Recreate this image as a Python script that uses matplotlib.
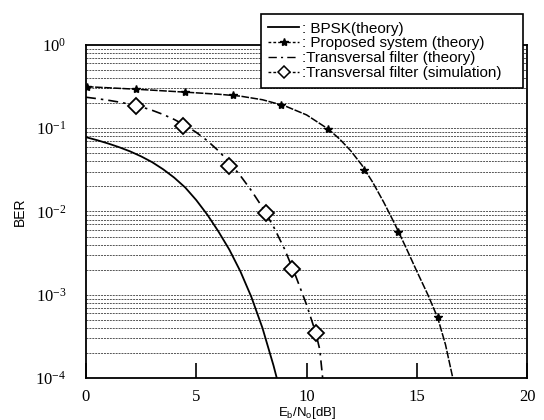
import numpy as np
import matplotlib
matplotlib.use('Agg')
import matplotlib.pyplot as plt
from matplotlib.lines import Line2D

# values
bpsk_x = [0, 0.5, 1, 1.5, 2, 2.5, 3, 3.5, 4, 4.5, 5, 5.5, 6, 6.5, 7, 7.5,
          8, 8.5, 8.65]
bpsk_ber = [0.078, 0.0719, 0.0656, 0.0592, 0.0527, 0.0459, 0.0391, 0.0321,
            0.0255, 0.0194, 0.0137, 0.00916, 0.00578, 0.00348, 0.00191,
            0.000938, 0.0004, 0.000142, 0.0001]

prop_x = [0, 1, 2, 3, 4, 5, 6, 7, 8, 9, 10, 11, 11.5, 12, 12.5, 13, 13.5,
          14, 14.5, 15, 15.5, 15.95, 16.3, 16.63]
prop_ber = [0.3155, 0.306, 0.2965, 0.2864, 0.276, 0.266, 0.256, 0.2427,
            0.2198, 0.1862, 0.1445, 0.097, 0.0741, 0.0537, 0.0363, 0.0224,
            0.0129, 0.00708, 0.00372, 0.00191, 0.001, 0.000525, 0.000251,
            0.0001]
star_x = [0.03, 2.27, 4.49, 6.65, 8.83, 10.99, 12.62, 14.16, 15.95]
star_ber = [0.316, 0.294, 0.272, 0.249, 0.192, 0.097, 0.0315, 0.0057, 0.00054]

tf_x = [0, 0.5, 1, 1.5, 2, 2.5, 3, 3.5, 4, 4.5, 5, 5.5, 6, 6.5, 7, 7.5, 8,
        8.5, 9, 9.5, 10, 10.42, 10.6, 10.73]
tf_ber = [0.2355, 0.2265, 0.2168, 0.2061, 0.1941, 0.1807, 0.1641, 0.1462,
          0.1274, 0.1084, 0.0891, 0.0708, 0.0537, 0.0389, 0.0269, 0.0178,
          0.0112, 0.0066, 0.00355, 0.0017, 0.00076, 0.000347, 0.000219,
          0.0001]
sim_x = [2.25, 4.41, 6.50, 8.16, 9.36, 10.42]
sim_ber = [0.187, 0.106, 0.0352, 0.0095, 0.00202, 0.000344]

labels = [': BPSK(theory)', ': Proposed system (theory)',
          ':Transversal filter (theory)', ':Transversal filter (simulation)']

fig = plt.figure(figsize=(5.44, 4.2), dpi=100)
ax = fig.add_axes([0.158, 0.1, 0.811, 0.793])

# dense horizontal grid like the scanned original
for e in range(-4, 0):
    for m in range(1, 10):
        v = m * 10.0**e
        if v <= 1e-4:
            continue
        ax.axhline(v, color='#555555', lw=0.7, ls=(0, (2, 1)), zorder=1)

dashdot = (0, (6, 3, 1.5, 3))
ax.plot(bpsk_x, bpsk_ber, color='k', lw=1.3, zorder=3)
ax.plot(prop_x, prop_ber, color='k', lw=1.1, ls=(0, (5, 1)), zorder=3)
ax.plot(star_x, star_ber, ls='none', marker='*', ms=6, color='k', zorder=4)
ax.plot(tf_x, tf_ber, color='k', lw=1.2, ls=dashdot, zorder=3)
ax.plot(sim_x, sim_ber, ls='none', marker='D', ms=8, mfc='white',
        mec='k', mew=1.3, zorder=4)

ax.set_yscale('log')
ax.set_xlim(0, 20)
ax.set_ylim(1e-4, 1)
ax.set_xticks([0, 5, 10, 15, 20])
ax.set_xticklabels(['0', '5', '10', '15', '20'], family='Liberation Serif',
                   fontsize=12)
yt = [1e-4, 1e-3, 1e-2, 1e-1, 1]
ax.set_yticks(yt)
ax.set_yticklabels([r'$\mathregular{10^{%d}}$' % e for e in range(-4, 1)],
                   family='Liberation Serif', fontsize=12)
ax.yaxis.set_minor_locator(matplotlib.ticker.NullLocator())
ax.tick_params(axis='x', direction='in', length=11, width=1.2, pad=8)
ax.tick_params(axis='y', length=0, pad=14)
for s in ax.spines.values():
    s.set_linewidth(1.3)

ax.set_ylabel('BER', family='Liberation Sans', fontsize=10, labelpad=6)
ax.set_xlabel(r'E$_\mathregular{b}$/N$_\mathregular{o}$[dB]',
              family='Liberation Sans', fontsize=9.5, labelpad=0)

handles = [
    Line2D([], [], color='k', lw=1.3),
    Line2D([], [], color='k', lw=1.0, ls=(0, (2, 1.5)), marker='*', ms=6),
    Line2D([], [], color='k', lw=1.0, ls=dashdot),
    Line2D([], [], color='k', lw=1.0, ls=(0, (2, 1.5)), marker='D', ms=6,
           mfc='white', mew=1.1),
]
leg = fig.legend(handles, labels, loc='upper left',
                 bbox_to_anchor=(0.465, 0.985, 0.51, 0.0),
                 mode='expand', prop={'family': 'Liberation Sans', 'size': 11},
                 handlelength=2.0, handletextpad=0.2, labelspacing=0.05,
                 borderpad=0.5, fancybox=False, framealpha=1,
                 edgecolor='k')
leg.get_frame().set_linewidth(1.2)

fig.savefig('out.png', dpi=100)
